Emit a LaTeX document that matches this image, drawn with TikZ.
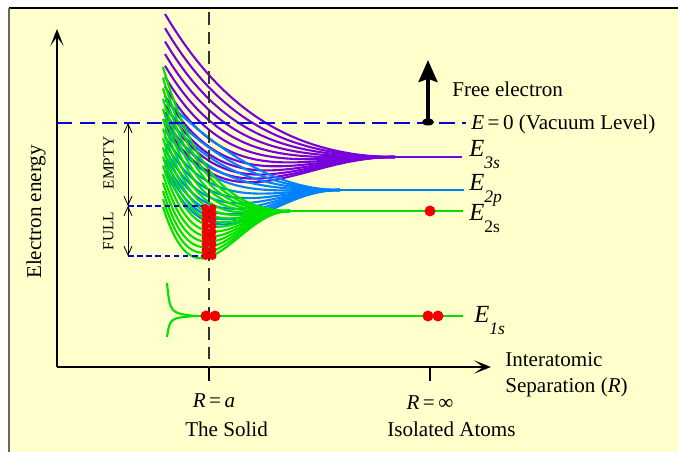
\documentclass[tikz,border=0pt]{standalone}
\usepackage{fontspec}
\setmainfont{Liberation Serif}
\usetikzlibrary{arrows.meta, positioning}

\definecolor{bgyellow}{RGB}{255,255,204}
\definecolor{bandpurple}{RGB}{120,0,220}
\definecolor{bandblue}{RGB}{0,130,255}
\definecolor{bandgreen}{RGB}{0,225,0}
\definecolor{vacblue}{RGB}{0,0,225}
\definecolor{dotred}{RGB}{240,0,0}

\begin{document}
\begin{tikzpicture}[
				x=0.025cm, y=-0.025cm,
				every node/.style={font=\fontsize{15}{17}\selectfont, inner sep=0pt},
				elabel/.style={font=\fontsize{17.5}{17}\selectfont, anchor=base west},
				smalllabel/.style={font=\fontsize{11}{13}\selectfont, rotate=90},
				axis/.style={line width=1.8pt, -{Stealth[length=0.42cm, width=0.33cm, inset=0.22cm]}},
				tick/.style={line width=1.8pt},
				band/.style={line width=1.5pt},
				level/.style={line width=2pt},
				soliddash/.style={line width=1pt, black!80, dash pattern=on 9pt off 5pt},
				vacdash/.style={line width=2pt, vacblue, dash pattern=on 11pt off 5pt},
				fulldash/.style={line width=1.5pt, vacblue, dash pattern=on 4pt off 2.5pt},
				dimarrow/.style={line width=0.6pt, {Straight Barb[length=0.22cm, width=0.2cm]}-{Straight Barb[length=0.22cm, width=0.2cm]}},
				freearrow/.style={line width=0.1cm, -{Stealth[length=0.55cm, width=0.47cm, inset=0.08cm]}}
				]
				\useasboundingbox (0,0) rectangle (678,452);
				% Background
				\fill[bgyellow] (9,8) rectangle (678,452);
				\draw[line width=0.8pt] (9,8) -- (678,8);
				\draw[line width=0.8pt, black!60] (9,8) -- (9,452);

				% Coordinates
				\coordinate (O) at (57,367);
				\coordinate (ytop) at (57,29);
				\coordinate (xend) at (491,367);
				\coordinate (Ra) at (209,367);
				\coordinate (Rinf) at (430,367);
				\coordinate (Rtop) at (209,12);
				\coordinate (vacL) at (57,123);
				\coordinate (vacR) at (466,123);
				\coordinate (emptyT) at (128,123);
				\coordinate (fullT) at (128,206);
				\coordinate (fullB) at (128,256);
				\coordinate (solidT) at (209,206);
				\coordinate (solidB) at (209,256);

				% Bands: colour/left x/merge x/level y/left y (bottom,top)/y at R=a (bottom,top)/skew/count
				\foreach \col/\xL/\xc/\yz/\lb/\lt/\mb/\mt/\sk/\nb in {
						bandpurple/165/395/157/125/14/172/75/0.8/11,
						bandblue/165/340/190/170/100/222/138/0.4/11,
						bandgreen/163/290/211/207/67/257/170/0.2/15}{
					\pgfmathsetmacro\wd{\xc-\xL}
					\pgfmathsetmacro\uM{(\xc-209)/\wd}
					\foreach \k in {0,...,\nb}{
						\pgfmathsetmacro\tk{(\k/\nb)*(1+\sk*\k/\nb)/(1+\sk)}
						\pgfmathsetmacro\dL{(\lb)+((\lt)-(\lb))*\tk-(\yz)}
						\pgfmathsetmacro\dM{(\mb)+((\mt)-(\mb))*\tk-(\yz)}
						\pgfmathsetmacro\cA{((\dM)-(\dL)*\uM*\uM*\uM*\uM)/(\uM*\uM-\uM*\uM*\uM*\uM)}
						\pgfmathsetmacro\cB{(\dL)-(\cA)}
						\draw[band, \col] plot[domain=\xL:\xc, samples=36, smooth]
							(\x, {\yz+(\cA)*((\xc-\x)/\wd)*((\xc-\x)/\wd)+(\cB)*((\xc-\x)/\wd)*((\xc-\x)/\wd)*((\xc-\x)/\wd)*((\xc-\x)/\wd)});
					}
				}

				% Atomic levels
				\draw[level, bandpurple] (395,157) -- (462,157);
				\draw[level, bandblue] (340,190) -- (464,190);
				\draw[level, bandgreen] (290,211) -- (463,211);
				\draw[band, bandgreen] (167,283) .. controls (170,313) .. (195,316);
				\draw[band, bandgreen] (167,337) .. controls (170,318) .. (195,316);
				\draw[level, bandgreen] (185,316) -- (463,316);

				% Axes
				\draw[axis] (O) -- (ytop);
				\draw[axis] (O) -- (xend);
				\draw[tick] (Ra) -- ++(0,14);
				\draw[tick] (Rinf) -- ++(0,14);
				\draw[soliddash] (Rtop) -- (Ra);

				% Vacuum level and band limits
				\draw[vacdash] (vacL) -- (vacR);
				\draw[fulldash] (fullT) -- (solidT);
				\draw[fulldash] (fullB) -- (solidB);
				\draw[dimarrow] (emptyT) -- (fullT);
				\draw[dimarrow] (fullT) -- (fullB);

				% Electrons
				\foreach \i in {0,...,8}{
					\fill[dotred] (205.5,208+6*\i) circle (4);
					\fill[dotred] (212.5,208+6*\i) circle (4);
				}
				\fill[dotred] (430,211) circle (5.5);
				\foreach \ex in {206,215,428,438}
					\fill[dotred] (\ex,316) circle (5.5);
				\coordinate (freebase) at (428,122);
				\coordinate (freetip) at (428,60);
				\fill (freebase) ellipse (6 and 3.5);
				\draw[freearrow] (freebase) -- (freetip);

				% Labels
				\node (ylab) [rotate=90] at (36,212) {Electron energy};
				\node (empty) [smalllabel] at (108.5,163) {EMPTY};
				\node (full) [smalllabel] at (108.5,231) {FULL};
				\node (free) [anchor=base west] at (452,97) {Free electron};
				\node (vac) [anchor=base west] at (471,130) {\textit{E}\,=\,0 (Vacuum Level)};
				\node (e3s) [elabel] at (469,157) {\textit{E}\raisebox{-8.5pt}{\fontsize{12.5}{12.5}\selectfont\textit{3s}}};
				\node (e2p) [elabel] at (469,191) {\textit{E}\raisebox{-8pt}{\fontsize{12.5}{12.5}\selectfont\textit{2p}}};
				\node (e2s) [elabel] at (469,221) {\textit{E}\raisebox{-8pt}{\fontsize{12.5}{12.5}\selectfont 2s}};
				\node (e1s) [elabel] at (474,323) {\textit{E}\raisebox{-8.5pt}{\fontsize{12.5}{12.5}\selectfont\textit{1s}}};
				\node (inter) [anchor=base west] at (505,366) {Interatomic};
				\node (sep) [below=0.65cm of inter.base west, anchor=base west] {Separation (\textit{R})};
				\node (ra) [anchor=base] at (214,407) {\textit{R}\,=\,\textit{a}};
				\node (solid) [anchor=base west] at (185,437) {The Solid};
				\node (rinf) [anchor=base] at (430,410) {\textit{R}\,=\,∞};
				\node (atoms) [anchor=base west] at (387,437) {Isolated Atoms};
			\end{tikzpicture}
\end{document}
